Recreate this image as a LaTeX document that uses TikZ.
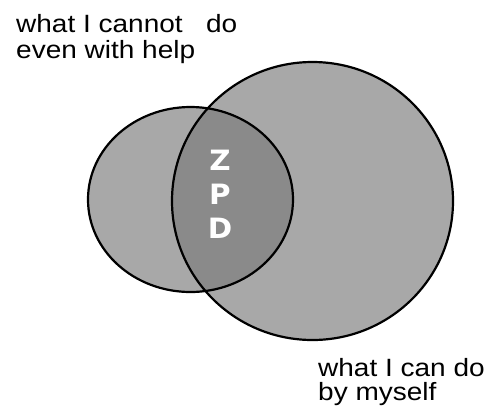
\documentclass[tikz,border=0pt]{standalone}
\usepackage{fontspec}
\setmainfont{Liberation Sans}
\newfontfamily\zpdfont{DejaVu Sans}
\definecolor{lightg}{HTML}{A8A8A8}
\definecolor{darkg}{HTML}{8A8A8A}
\begin{document}
\begin{tikzpicture}[x=1pt,y=-1pt,
  lbl/.style={anchor=base west,inner sep=0pt,font=\fontsize{25}{25}\selectfont},
  zpd/.style={inner sep=0pt,align=center,text=white,font=\zpdfont\fontsize{28}{34}\selectfont\bfseries},
  outline/.style={draw=black,line width=2.2pt}]
\useasboundingbox (0,0) rectangle (487,408);
\def\smallshape{(190.5,199.5) ellipse [x radius=102.5, y radius=92.5]}
\def\bigshape{(312.5,201) ellipse [x radius=140.5, y radius=139]}
\fill[lightg] \smallshape;
\fill[lightg] \bigshape;
\begin{scope}
  \clip \smallshape;
  \fill[darkg] \bigshape;
\end{scope}
\draw[outline] \smallshape;
\draw[outline] \bigshape;
\node[lbl] (t1a) at (16,32) {\scalebox{1.12}[1]{what I cannot\hspace{14pt} do}};
\node[lbl] (t1b) at (16,58) {\scalebox{1.12}[1]{even with help}};
\node[lbl] (t2a) at (318,376) {\scalebox{1.12}[1]{what I can do}};
\node[lbl] (t2b) at (318,400) {\scalebox{1.12}[1]{by myself}};
\node[zpd] (z) at (220,194.5) {\scalebox{1.05}[1]{Z}\\\scalebox{1.05}[1]{P}\\\scalebox{1.05}[1]{D}};
\end{tikzpicture}
\end{document}
